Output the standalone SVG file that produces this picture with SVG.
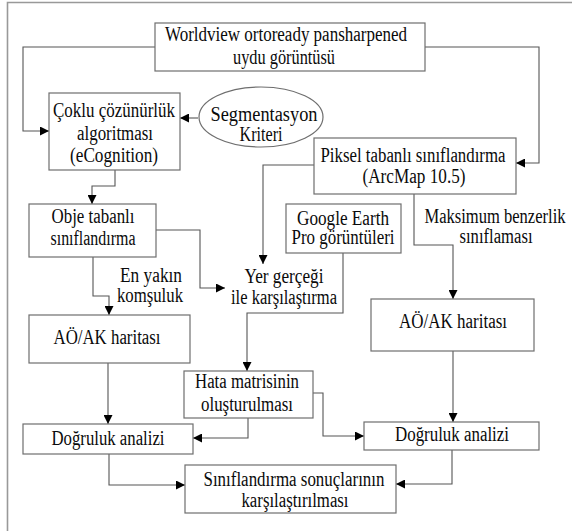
<svg xmlns="http://www.w3.org/2000/svg" width="572" height="531" viewBox="0 0 572 531">
<defs>
<marker id="ah" viewBox="0 0 10 10" refX="10" refY="5" markerWidth="9" markerHeight="9" markerUnits="userSpaceOnUse" orient="auto">
<path d="M0,0 L10,5 L0,10 z" fill="#000"/>
</marker>
<style>
.box{fill:#fff;stroke:#6e6e6e;stroke-width:1.2}
.t{font-family:'Liberation Serif','DejaVu Serif',serif;font-size:20px;fill:#0a0a0a;text-anchor:middle}
.c{fill:none;stroke:#555;stroke-width:1.1;marker-end:url(#ah)}
.frame{fill:none;stroke:#999;stroke-width:1.6}
</style>
</defs>
<rect width="572" height="531" fill="#fff"/>
<path class="frame" d="M7.5,531 V2.5 H572"/>

<g id="connectors">
<path class="c" d="M155,47 H23 V131 H49"/>
<path class="c" d="M425,47 H539 V163 H516"/>
<path class="c" d="M198,118 H180"/>
<path class="c" d="M115,170 V186 H92 V204"/>
<path class="c" d="M156,230 H200 V288 H225"/>
<path class="c" d="M93,257 V296 H109 V315"/>
<path class="c" d="M314,165 H263 V264"/>
<path class="c" d="M414,194 V245 H453 V299"/>
<path class="c" d="M343,253 V313 H247 V371"/>
<path class="c" d="M108,363 V424"/>
<path class="c" d="M453,351 V422"/>
<path class="c" d="M248,418 V438 H193"/>
<path class="c" d="M313,393 H323 V436 H364"/>
<path class="c" d="M109,454 V485 H185"/>
<path class="c" d="M452,450 V484 H396"/>
</g>

<g id="worldview">
<rect class="box" x="155" y="23" width="270" height="48"/>
<text class="t" x="286" y="41" textLength="242" lengthAdjust="spacingAndGlyphs">Worldview ortoready pansharpened</text>
<text class="t" x="284" y="64" textLength="102" lengthAdjust="spacingAndGlyphs">uydu görüntüsü</text>
</g>

<g id="coklu">
<rect class="box" x="49" y="93" width="131" height="77"/>
<text class="t" x="114" y="117" textLength="122" lengthAdjust="spacingAndGlyphs">Çoklu çözünürlük</text>
<text class="t" x="115" y="140" textLength="76" lengthAdjust="spacingAndGlyphs">algoritması</text>
<text class="t" x="114" y="162" textLength="88" lengthAdjust="spacingAndGlyphs">(eCognition)</text>
</g>

<g id="segmentasyon">
<ellipse class="box" cx="261" cy="117" rx="62" ry="30"/>
<text class="t" x="264" y="121" textLength="107" lengthAdjust="spacingAndGlyphs">Segmentasyon</text>
<text class="t" x="261" y="141" textLength="43" lengthAdjust="spacingAndGlyphs">Kriteri</text>
</g>

<g id="piksel">
<rect class="box" x="314" y="138" width="202" height="56"/>
<text class="t" x="413" y="162" textLength="185" lengthAdjust="spacingAndGlyphs">Piksel tabanlı sınıflandırma</text>
<text class="t" x="414" y="183" textLength="103" lengthAdjust="spacingAndGlyphs">(ArcMap 10.5)</text>
</g>

<g id="obje">
<rect class="box" x="29" y="204" width="127" height="53"/>
<text class="t" x="93" y="223" textLength="83" lengthAdjust="spacingAndGlyphs">Obje tabanlı</text>
<text class="t" x="93" y="245" textLength="85" lengthAdjust="spacingAndGlyphs">sınıflandırma</text>
</g>

<g id="google-earth">
<rect class="box" x="286" y="204" width="115" height="49"/>
<text class="t" x="343" y="225" textLength="92" lengthAdjust="spacingAndGlyphs">Google Earth</text>
<text class="t" x="343" y="244" textLength="103" lengthAdjust="spacingAndGlyphs">Pro görüntüleri</text>
</g>

<g id="yer-gercegi">
<text class="t" x="284" y="283" textLength="79" lengthAdjust="spacingAndGlyphs">Yer gerçeği</text>
<text class="t" x="284" y="304" textLength="106" lengthAdjust="spacingAndGlyphs">ile karşılaştırma</text>
</g>

<g id="en-yakin-label">
<text class="t" x="151" y="282" textLength="62" lengthAdjust="spacingAndGlyphs">En yakın</text>
<text class="t" x="150" y="302" textLength="66" lengthAdjust="spacingAndGlyphs">komşuluk</text>
</g>

<g id="maksimum-label">
<text class="t" x="495" y="223" textLength="141" lengthAdjust="spacingAndGlyphs">Maksimum benzerlik</text>
<text class="t" x="496" y="243" textLength="73" lengthAdjust="spacingAndGlyphs">sınıflaması</text>
</g>

<g id="aoak-left">
<rect class="box" x="29" y="315" width="161" height="48"/>
<text class="t" x="107" y="344" textLength="107" lengthAdjust="spacingAndGlyphs">AÖ/AK haritası</text>
</g>

<g id="aoak-right">
<rect class="box" x="371" y="299" width="163" height="52"/>
<text class="t" x="453" y="328" textLength="108" lengthAdjust="spacingAndGlyphs">AÖ/AK haritası</text>
</g>

<g id="hata">
<rect class="box" x="184" y="371" width="129" height="47"/>
<text class="t" x="247" y="388" textLength="104" lengthAdjust="spacingAndGlyphs">Hata matrisinin</text>
<text class="t" x="247" y="411" textLength="92" lengthAdjust="spacingAndGlyphs">oluşturulması</text>
</g>

<g id="dogruluk-left">
<rect class="box" x="23" y="424" width="170" height="30"/>
<text class="t" x="108" y="445" textLength="113" lengthAdjust="spacingAndGlyphs">Doğruluk analizi</text>
</g>

<g id="dogruluk-right">
<rect class="box" x="364" y="422" width="175" height="28"/>
<text class="t" x="452" y="441" textLength="114" lengthAdjust="spacingAndGlyphs">Doğruluk analizi</text>
</g>

<g id="siniflandirma-sonuc">
<rect class="box" x="185" y="465" width="211" height="48"/>
<text class="t" x="294" y="486" textLength="181" lengthAdjust="spacingAndGlyphs">Sınıflandırma sonuçlarının</text>
<text class="t" x="295" y="507" textLength="107" lengthAdjust="spacingAndGlyphs">karşılaştırılması</text>
</g>
</svg>
